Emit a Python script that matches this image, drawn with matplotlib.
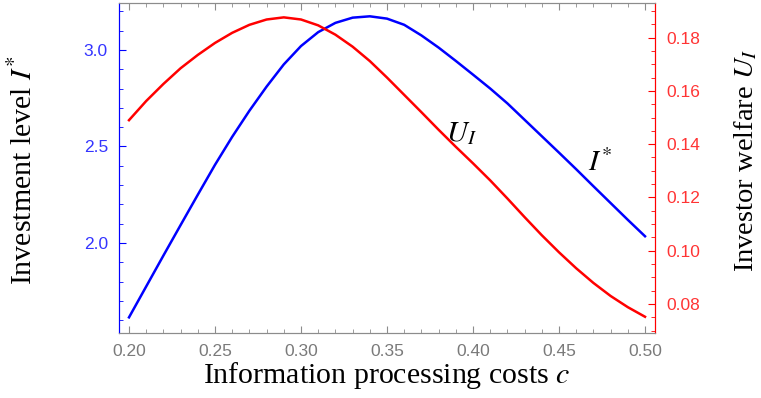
import matplotlib
matplotlib.use('Agg')
import matplotlib.pyplot as plt
from matplotlib.ticker import MultipleLocator, FormatStrFormatter

plt.rcParams['font.family'] = ['Liberation Sans']
plt.rcParams['mathtext.fontset'] = 'stix'

# data
cost = [0.20, 0.21, 0.22, 0.23, 0.24, 0.25, 0.26, 0.27, 0.28, 0.29, 0.30,
        0.31, 0.32, 0.33, 0.34, 0.35, 0.36, 0.37, 0.38, 0.39, 0.40,
        0.41, 0.42, 0.43, 0.44, 0.45, 0.46, 0.47, 0.48, 0.49, 0.50]
investment = [1.615, 1.775, 1.935, 2.093, 2.25, 2.405, 2.55, 2.685, 2.81, 2.925, 3.02,
              3.092, 3.14, 3.167, 3.174, 3.162, 3.13, 3.075, 3.012, 2.943, 2.872,
              2.80, 2.723, 2.638, 2.553, 2.468, 2.382, 2.294, 2.207, 2.12, 2.035]
welfare = [0.149, 0.1562, 0.1626, 0.1685, 0.1735, 0.178, 0.1818, 0.1848, 0.1868, 0.1876, 0.1868,
           0.1846, 0.1811, 0.1766, 0.1712, 0.1650, 0.1585, 0.1520, 0.1454, 0.1390, 0.1328,
           0.1264, 0.1196, 0.1126, 0.1058, 0.0994, 0.0934, 0.0879, 0.0830, 0.0788, 0.0752]

BLUE = '#0000ff'
RED = '#ff0000'
GREY = '#8c8c8c'
serif = ['Liberation Serif']

fig = plt.figure(figsize=(7.61, 3.98), dpi=100)
ax = fig.add_axes([0.1564, 0.1633, 0.8607 - 0.1564, 0.9925 - 0.1633])
ax2 = ax.twinx()

ax.plot(cost, investment, color=BLUE, lw=1.8, zorder=3)
ax2.plot(cost, welfare, color=RED, lw=1.8, zorder=3)

ax.set_xlim(0.1942, 0.5058)
ax.set_ylim(1.534, 3.243)
ax2.set_ylim(0.0691, 0.193)

ax.xaxis.set_major_locator(MultipleLocator(0.05))
ax.xaxis.set_minor_locator(MultipleLocator(0.01))
ax.yaxis.set_major_locator(MultipleLocator(0.5))
ax.yaxis.set_minor_locator(MultipleLocator(0.1))
ax2.yaxis.set_major_locator(MultipleLocator(0.02))
ax2.yaxis.set_minor_locator(MultipleLocator(0.005))
ax.xaxis.set_major_formatter(FormatStrFormatter('%.2f'))
ax.yaxis.set_major_formatter(FormatStrFormatter('%.1f'))
ax2.yaxis.set_major_formatter(FormatStrFormatter('%.2f'))

for a in (ax, ax2):
    a.spines['top'].set_color(GREY)
    a.spines['bottom'].set_color(GREY)
    a.spines['left'].set_color(BLUE)
    a.spines['right'].set_color(RED)

ax.tick_params(axis='x', which='both', direction='in', top=True, colors=GREY,
               labelcolor='#7a7a7a', labelsize=12.5, pad=8)
ax.tick_params(axis='x', which='major', length=5)
ax.tick_params(axis='x', which='minor', length=3)
ax.tick_params(axis='y', which='both', direction='in', colors=BLUE,
               labelcolor='#3434ff', labelsize=12.5, pad=8)
ax.tick_params(axis='y', which='major', length=5)
ax.tick_params(axis='y', which='minor', length=3)
ax2.tick_params(axis='y', which='both', direction='in', colors=RED,
                labelcolor='#ff3434', labelsize=12.5, pad=8)
ax2.tick_params(axis='y', which='major', length=5)
ax2.tick_params(axis='y', which='minor', length=3)

ax.set_xlabel('Information processing costs $c$', family=serif, fontsize=21.5,
              va='center')
ax.xaxis.set_label_coords(0.5, -0.128)
ax.set_ylabel('Investment level $I^{*}$', family=serif, fontsize=21.5, va='center')
ax.yaxis.set_label_coords(-0.177, 0.495)
ax2.set_ylabel('Investor welfare $U_{I}$', family=serif, fontsize=20.5, va='center')
ax2.yaxis.set_label_coords(1.170, 0.522)

ax2.text(0.3934, 0.1443, '$U_{I}$', fontsize=21, ha='center', va='center')
ax.text(0.4737, 2.415, '$I^{*}$', fontsize=21, ha='center', va='center')

fig.savefig('out.png', dpi=100)
